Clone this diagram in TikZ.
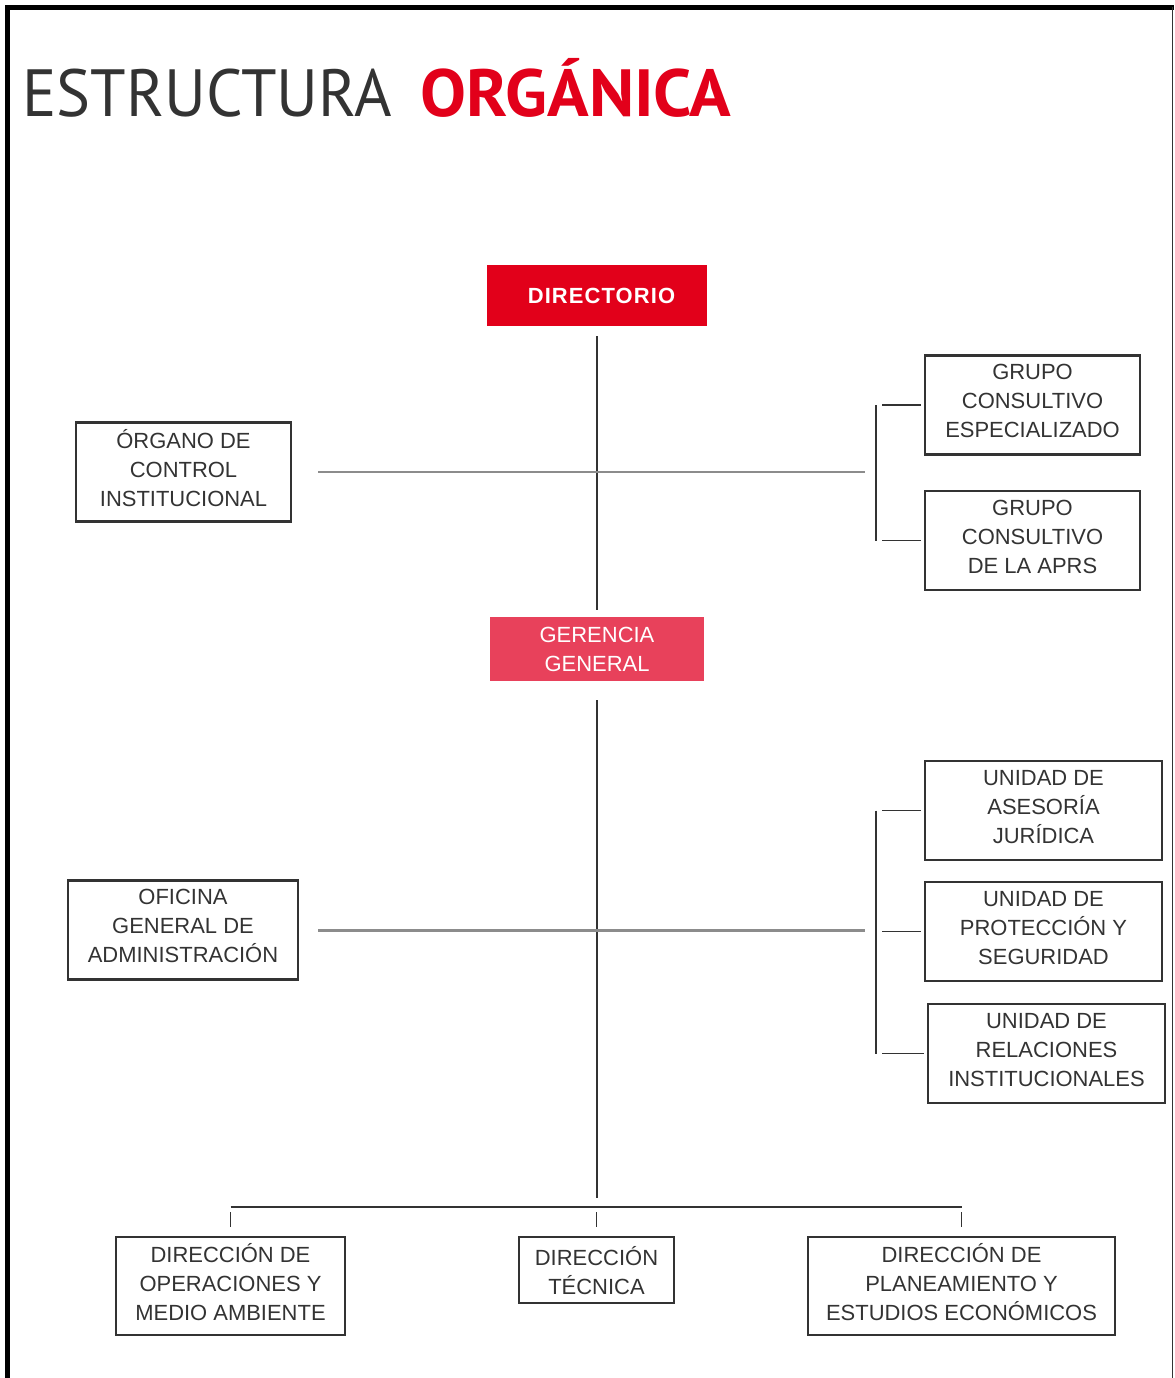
\documentclass[tikz,border=0pt]{standalone}
\usepackage{fontspec}
\setmainfont{Liberation Sans}
\newfontfamily\titlefont{PT Sans}
\newfontfamily\headfont[LetterSpace=5]{Liberation Sans}
\definecolor{ostred}{HTML}{E2001A}
\definecolor{ostpink}{HTML}{E8415B}
\definecolor{ostink}{HTML}{333333}
\definecolor{ostgrey}{HTML}{8C8C8C}
\begin{document}
\begin{tikzpicture}[x=0.02cm, y=-0.02cm, font=\fontsize{12.5}{16.5}\selectfont,
  unitbox/.style={draw=ostink, line width=1.2pt, text=ostink, align=center, inner sep=0pt, minimum height=1.98cm, text depth=0.16cm},
  headbox/.style={fill=#1, text=white, align=center, inner sep=0pt},
  link/.style={draw=ostink, line width=1.1pt},
  axis/.style={draw=ostgrey, line width=1.7pt}]
  \useasboundingbox (0,0) rectangle (1174,1378);
  % frame
  \draw[line width=0.1cm] (7.5,1378) -- (7.5,7.5) -- (1174,7.5);
  \draw[draw=ostink, line width=0.6pt] (1172.5,7.5) -- (1172.5,1378);
  % title
  \node[anchor=base west, inner sep=0pt, text=ostink, font=\titlefont\fontsize{38}{40}\selectfont] (title) at (22,117) {\scalebox{0.96}[1]{ESTRUCTURA}};
  \node[anchor=base west, inner sep=0pt, text=ostred, font=\titlefont\bfseries\fontsize{38}{40}\selectfont] (titlered) at (420,117) {\scalebox{1.03}[1]{ORGÁNICA}};
  % top of the chart
  \node[headbox=ostred, minimum width=4.42cm, minimum height=1.22cm, font=\headfont\bfseries\fontsize{12.5}{14}\selectfont] (dir) at (597,295.5) {\hspace*{0.18cm}DIRECTORIO};
  \node[headbox=ostpink, minimum width=4.28cm, minimum height=1.28cm] (ger) at (597,649) {GERENCIA\\GENERAL};
  \node[unitbox, minimum width=4.3cm] (oci) at (183.5,472) {ÓRGANO DE\\CONTROL\\INSTITUCIONAL};
  \node[unitbox, minimum width=4.3cm] (gce) at (1032.5,405) {GRUPO\\CONSULTIVO\\ESPECIALIZADO};
  \node[unitbox, minimum width=4.3cm] (gca) at (1032.5,540.5) {GRUPO\\CONSULTIVO\\DE LA APRS};
  % support units
  \node[unitbox, minimum width=4.6cm] (ofi) at (183,930) {OFICINA\\GENERAL DE\\ADMINISTRACIÓN};
  \node[unitbox, minimum width=4.74cm] (uaj) at (1043.5,810.5) {UNIDAD DE\\ASESORÍA\\JURÍDICA};
  \node[unitbox, minimum width=4.74cm] (ups) at (1043.5,931.5) {UNIDAD DE\\PROTECCIÓN Y\\SEGURIDAD};
  \node[unitbox, minimum width=4.74cm] (uri) at (1046.5,1053.5) {UNIDAD DE\\RELACIONES\\INSTITUCIONALES};
  % line units
  \node[unitbox, minimum width=4.58cm, minimum height=1.96cm] (dop) at (230.5,1286) {DIRECCIÓN DE\\OPERACIONES Y\\MEDIO AMBIENTE};
  \node[unitbox, minimum width=3.1cm, minimum height=1.32cm, text depth=0pt] (dte) at (596.5,1270) {DIRECCIÓN\\TÉCNICA};
  \node[unitbox, minimum width=6.14cm, minimum height=1.96cm] (dpl) at (961.5,1286) {DIRECCIÓN DE\\PLANEAMIENTO Y\\ESTUDIOS ECONÓMICOS};
  \coordinate (brkA) at (876,472);
  \coordinate (brkB) at (876,930);
  \coordinate (bus) at (597,1207);
  % connectors
  \draw[link, shorten <=0.2cm, shorten >=0.14cm] (dir) -- (ger);
  \draw[link, shorten <=0.38cm, shorten >=0.18cm] (ger) -- (bus);
  \draw[axis, shorten <=0.52cm, shorten >=0.22cm] (oci) -- (brkA);
  \draw[axis, shorten <=0.38cm, shorten >=0.22cm] (ofi) -- (brkB);
  \draw[link] (gce.west -| brkA) -- (gca.west -| brkA);
  \foreach \n in {gce,gca}
    \draw[link, shorten <=0.12cm, shorten >=0.06cm] (\n.west -| brkA) -- (\n.west);
  \draw[link] (uaj.west -| brkB) -- (uri.west -| brkB);
  \foreach \n in {uaj,ups,uri}
    \draw[link, shorten <=0.12cm, shorten >=0.06cm] (\n.west -| brkB) -- (\n.west);
  \draw[link] (bus -| dop) -- (bus -| dpl);
  \foreach \n in {dop,dte,dpl}
    \draw[link, shorten <=0.1cm, shorten >=0.18cm] (bus -| \n) -- (\n);
\end{tikzpicture}
\end{document}
